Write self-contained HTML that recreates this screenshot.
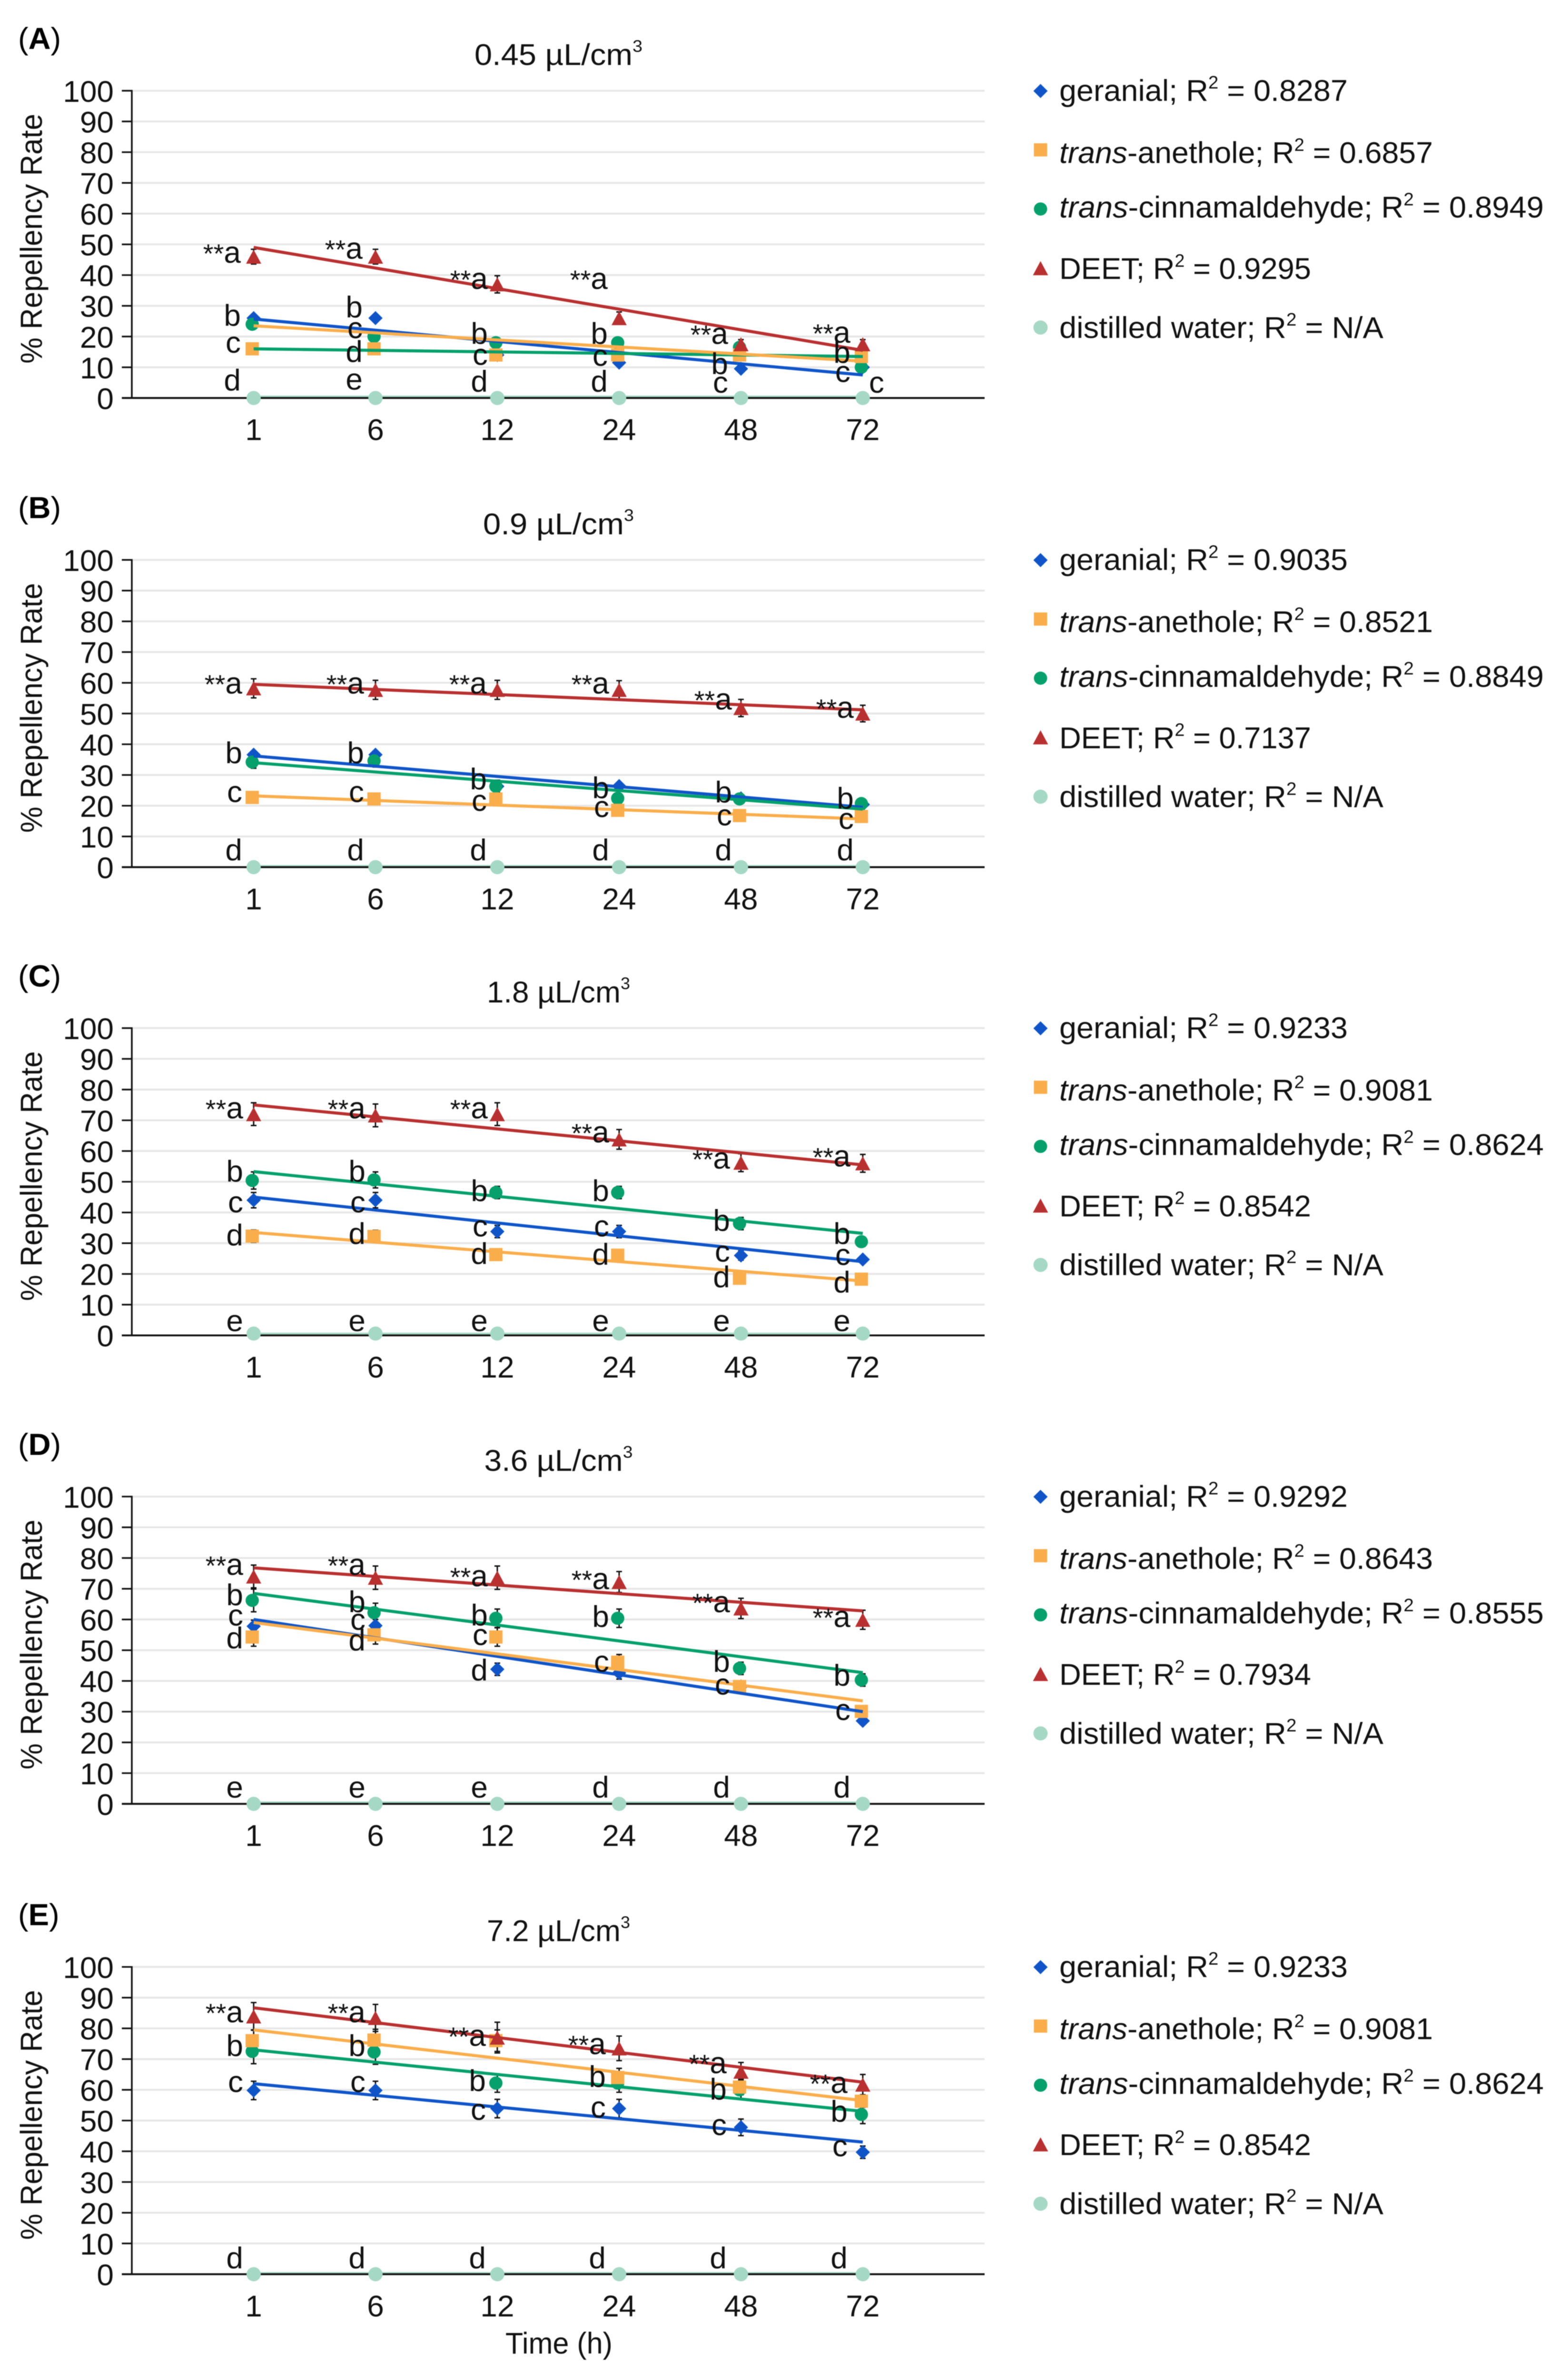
<!DOCTYPE html>
<html lang="en">
<head>
<meta charset="utf-8">
<title>Repellency rate over time</title>
<style>
html,body{margin:0;padding:0;background:#fff;overflow:hidden}
svg{display:block;width:100vw;height:100vh;font-family:"Liberation Sans",Arial,sans-serif;filter:blur(0.7px)}
</style>
</head>
<body>
<svg id="figure" xmlns="http://www.w3.org/2000/svg" viewBox="0 0 3276 5050" preserveAspectRatio="none"></svg>
<script>
const categories = ['1','6','12','24','48','72'];
const yTicks = [0,10,20,30,40,50,60,70,80,90,100];
const yTickLabels = ['0','10','20','30','40','50','60','70','80','90','100'];

// Panel A
const geranialA = [26,26,14,11.5,9.5,10];
const anetholeA = [16,16,14,14,14,13.5];
const cinnamA = [24,20,18,18,16.5,10];
const deetA = [46,46,37,26,17.5,17.5];
const waterA = [0,0,0,0,0,0];
const errGeranialA = [1,1,1,1,1,1];
const errAnetholeA = [1,1,1,1,1,1];
const errCinnamA = [1,1,1,1,1,1];
const errDeetA = [2.4,2.4,2.8,2,1.5,1.5];
const trendGeranialA = [25.7,7.5];
const trendAnetholeA = [23.5,12];
const trendCinnamA = [16,13.5];
const trendDeetA = [49,15.5];
const trendWaterA = [0.3,0.3];
const r2A = ['0.8287','0.6857','0.8949','0.9295','N/A'];
const lettersA = [['**a','b','c','d'],['**a','b','c','d','e'],['**a','b','c','d'],['**a','b','c','d'],['**a','b','c'],['**a','b','c']];
const letterValsA = [[44,23.5,14.7,2.4],[45.3,26.2,19.5,11.7,2.7],[35.5,17.6,10.8,2],[35.5,17.6,10.5,2],[17.6,7.8,1.7],[18,11.4,5.2]];

// Panel B
const geranialB = [36.6,36.6,26.3,26.4,22.4,20.4];
const anetholeB = [22.7,22.2,22.2,18.5,16.8,16.5];
const cinnamB = [34.2,34.6,26.3,22.4,22.2,20.7];
const deetB = [58.2,57.7,57.7,57.7,51.8,50];
const waterB = [0,0,0,0,0,0];
const errGeranialB = [1,1,1,1,1,1];
const errAnetholeB = [1,1,1,1,1,1];
const errCinnamB = [2,2,2,1.5,1,1];
const errDeetB = [3.1,3.1,3.1,3,2.8,2.7];
const trendGeranialB = [36.2,19.5];
const trendAnetholeB = [23.2,15.7];
const trendCinnamB = [34,18.9];
const trendDeetB = [59.5,51.2];
const trendWaterB = [0.2,0.2];
const r2B = ['0.9035','0.8521','0.8849','0.7137','N/A'];
const lettersB = [['**a','b','c','d'],['**a','b','c','d'],['**a','b','c','d'],['**a','b','c','d'],['**a','b','c','d'],['**a','b','c','d']];
const letterValsB = [[56.5,33.8,21.2,2.2],[56.5,33.8,21.2,2.2],[56.5,25.3,18.3,2.2],[56.5,22.4,16.3,2.2],[51.3,21,13.6,2.2],[48.6,19,12.4,2.2]];

// Panel C
const geranialC = [44,44,33.8,33.8,26,24.7];
const anetholeC = [32.3,32.2,26.3,26.1,18.6,18.3];
const cinnamC = [50.4,50.6,46.5,46.5,36.4,30.5];
const deetC = [72,71.6,72,63.8,56.2,56];
const waterC = [0.6,0.6,0.6,0.6,0.6,0.6];
const errGeranialC = [2.5,2.5,2,2,1.5,1];
const errAnetholeC = [2,2,1.5,1.5,1,1];
const errCinnamC = [2.8,2.6,2,2,2,1.5];
const errDeetC = [3.7,3.7,3.7,3.2,2.9,2.9];
const trendGeranialC = [45,24];
const trendAnetholeC = [33.5,17.7];
const trendCinnamC = [53.3,33.2];
const trendDeetC = [75,55.5];
const trendWaterC = [0.4,0.4];
const r2C = ['0.9233','0.9081','0.8624','0.8542','N/A'];
const lettersC = [['**a','b','c','d','e'],['**a','b','c','d','e'],['**a','b','c','d','e'],['**a','b','c','d','e'],['**a','b','c','d','e'],['**a','b','c','d','e']];
const letterValsC = [[70.6,50,40,29.3,1.4],[70.6,50,40,29.7,1.4],[70.6,43.7,32.2,23.2,1.4],[62.8,43.7,32.2,23,1.4],[54.3,34,24,15.6,1.4],[55,29.7,22.9,13.9,1.4]];

// Panel D
const geranialD = [57.8,58,43.8,42.6,38.2,27];
const anetholeD = [54.3,55,54.3,46.1,38.2,30.1];
const cinnamD = [66.2,62.2,60.4,60.4,44.1,40.3];
const deetD = [74,73.6,73.6,72.2,63.6,59.9];
const waterD = [0,0,0,0,0,0];
const errGeranialD = [2,2,2,2,1,1];
const errAnetholeD = [3,3,3,2.5,1,1];
const errCinnamD = [3.7,3.1,3,3,2,2];
const errDeetD = [3.7,3.8,3.8,3.4,3.3,3.1];
const trendGeranialD = [60,30];
const trendAnetholeD = [59,33.5];
const trendCinnamD = [68.5,42.7];
const trendDeetD = [76.8,62.8];
const trendWaterD = [0.3,0.3];
const r2D = ['0.9292','0.8643','0.8555','0.7934','N/A'];
const lettersD = [['**a','b','c','d','e'],['**a','b','c','d','e'],['**a','b','c','d','e'],['**a','b','c','d'],['**a','b','c','d'],['**a','b','c','d']];
const letterValsD = [[74.5,64.6,58,50.6,2],[74.5,62.4,56.6,49.9,2],[70.8,58,51.7,40.1,2],[69.9,57.6,43,2],[62.4,42.9,35.6,2],[57.6,38.4,27.3,2]];

// Panel E
const geranialE = [59.8,59.8,53.9,53.9,47.8,39.7];
const anetholeE = [76,76.2,76,64,60.9,56.3];
const cinnamE = [72.5,72.3,62.2,62.2,60,52];
const deetE = [83.9,83.4,77,73.5,65.9,61.7];
const waterE = [0,0,0,0,0,0];
const errGeranialE = [3,3,3,3,2.7,2];
const errAnetholeE = [3.5,3.5,3.5,3,2.5,2];
const errCinnamE = [4,4,3,3,3,3];
const errDeetE = [4.5,4.4,5,4,3,3.3];
const trendGeranialE = [62,43];
const trendAnetholeE = [79.5,56.5];
const trendCinnamE = [73,53];
const trendDeetE = [86.7,62.5];
const trendWaterE = [0.2,0.2];
const r2E = ['0.9233','0.9081','0.8624','0.8542','N/A'];
const lettersE = [['**a','b','c','d'],['**a','b','c','d'],['**a','b','c','d'],['**a','b','c','d'],['**a','b','c','d'],['**a','b','c','d']];
const letterValsE = [[82,71,59.3,1.9],[82,71,59.3,1.9],[74.3,59.6,50.2,1.9],[71.6,60.9,51,1.9],[65.4,56.8,45.3,1.9],[59,49.6,38.4,1.9]];

const NS = 'http://www.w3.org/2000/svg';
const svg = document.getElementById('figure');
const FONT_SIZE = 64;
const COLORS = {geranial:'#0f55c8',anethole:'#f9ae4b',cinnam:'#05a06c',deet:'#b83030',water:'#a6d8c6'};

const panels = [
 {id:'A',title:'0.45 µL/cm',titleW:353,y0:844.5,nudge:[-27,-27,-20,-24,-27,-26],geranial:geranialA,anethole:anetholeA,cinnam:cinnamA,deet:deetA,water:waterA,errGeranial:errGeranialA,errAnethole:errAnetholeA,errCinnam:errCinnamA,errDeet:errDeetA,trendGeranial:trendGeranialA,trendAnethole:trendAnetholeA,trendCinnam:trendCinnamA,trendDeet:trendDeetA,trendWater:trendWaterA,r2:r2A,letters:lettersA,letterVals:letterValsA,extra:{col:5,text:'c',val:1.7,dx:45}},
 {id:'B',title:'0.9 µL/cm',titleW:317,y0:1840,nudge:[-24,-24,-22,-21,-19,-19],geranial:geranialB,anethole:anetholeB,cinnam:cinnamB,deet:deetB,water:waterB,errGeranial:errGeranialB,errAnethole:errAnetholeB,errCinnam:errCinnamB,errDeet:errDeetB,trendGeranial:trendGeranialB,trendAnethole:trendAnetholeB,trendCinnam:trendCinnamB,trendDeet:trendDeetB,trendWater:trendWaterB,r2:r2B,letters:lettersB,letterVals:letterValsB},
 {id:'C',title:'1.8 µL/cm',titleW:301,y0:2833.5,nudge:[-22,-21,-20,-21,-23,-26],geranial:geranialC,anethole:anetholeC,cinnam:cinnamC,deet:deetC,water:waterC,errGeranial:errGeranialC,errAnethole:errAnetholeC,errCinnam:errCinnamC,errDeet:errDeetC,trendGeranial:trendGeranialC,trendAnethole:trendAnetholeC,trendCinnam:trendCinnamC,trendDeet:trendDeetC,trendWater:trendWaterC,r2:r2C,letters:lettersC,letterVals:letterValsC},
 {id:'D',title:'3.6 µL/cm',titleW:312,y0:3827.5,nudge:[-22,-21,-20,-21,-23,-26],geranial:geranialD,anethole:anetholeD,cinnam:cinnamD,deet:deetD,water:waterD,errGeranial:errGeranialD,errAnethole:errAnetholeD,errCinnam:errCinnamD,errDeet:errDeetD,trendGeranial:trendGeranialD,trendAnethole:trendAnetholeD,trendCinnam:trendCinnamD,trendDeet:trendDeetD,trendWater:trendWaterD,r2:r2D,letters:lettersD,letterVals:letterValsD},
 {id:'E',title:'7.2 µL/cm',titleW:301,y0:4825.5,nudge:[-22,-21,-24,-28,-30,-32],geranial:geranialE,anethole:anetholeE,cinnam:cinnamE,deet:deetE,water:waterE,errGeranial:errGeranialE,errAnethole:errAnetholeE,errCinnam:errCinnamE,errDeet:errDeetE,trendGeranial:trendGeranialE,trendAnethole:trendAnetholeE,trendCinnam:trendCinnamE,trendDeet:trendDeetE,trendWater:trendWaterE,r2:r2E,letters:lettersE,letterVals:letterValsE}
];

function make(tag, parent, props){
  const el = document.createElementNS(NS, tag);
  for (const k in props) el.setAttribute(k, props[k]);
  parent.appendChild(el);
  return el;
}
function xScale(i){ return 533 + 256 * i; }
function yScale(v, y0){ return y0 - v * 6.52; }

function drawMarker(parent, shape, cx, cy, color){
  if (shape === 'diamond') return make('polygon', parent, {points:`${cx},${cy-15} ${cx+15},${cy} ${cx},${cy+15} ${cx-15},${cy}`, fill:color});
  if (shape === 'square') return make('rect', parent, {x:cx-14, y:cy-14, width:28, height:28, fill:color});
  if (shape === 'triangle') return make('polygon', parent, {points:`${cx},${cy-15} ${cx+16},${cy+15} ${cx-16},${cy+15}`, fill:color});
  if (shape === 'water') return make('circle', parent, {cx:cx, cy:cy, r:15, fill:color});
  return make('circle', parent, {cx:cx, cy:cy, r:14, fill:color});
}

function drawErrorBars(group, values, errs, seriesName, dx, y0){
  values.forEach((v, i) => {
    const x = xScale(i) + dx;
    const top = yScale(v + errs[i], y0);
    const bottom = yScale(v - errs[i], y0);
    const bar = make('path', group, {d:`M${x-6} ${top}H${x+6}M${x} ${top}V${bottom}M${x-6} ${bottom}H${x+6}`, stroke:'#111', 'stroke-width':3, fill:'none'});
    
    
  });
}

function drawMarkers(group, values, shape, color, seriesName, dx, y0){
  values.forEach((v, i) => {
    const m = drawMarker(group, shape, xScale(i) + dx, yScale(v, y0), color);
    
    
  });
}

function drawTrend(group, trend, color, seriesName, y0){
  const line = make('line', group, {x1:xScale(0), y1:yScale(trend[0], y0), x2:xScale(categories.length - 1), y2:yScale(trend[1], y0), stroke:color, 'stroke-width':6.5});
  
  
}

panels.forEach(p => {
  const y0 = p.y0;
  const g = make('g', svg, {});
  
  

  // panel letter
  const panelLabel = make('text', g, {x:38, y:y0 - 740.5, 'font-size':65, fill:'#000'});
  
  
  make('tspan', panelLabel, {}).textContent = '(';
  make('tspan', panelLabel, {'font-weight':'bold'}).textContent = p.id;
  make('tspan', panelLabel, {}).textContent = ')';

  // title
  const title = make('text', g, {x:1173.5, y:y0 - 706.5, 'font-size':FONT_SIZE, 'text-anchor':'middle', fill:'#111', textLength:p.titleW, lengthAdjust:'spacingAndGlyphs'});
  
  
  make('tspan', title, {}).textContent = p.title;
  make('tspan', title, {dy:-28, 'font-size':36}).textContent = '3';

  // y axis title
  const yc = y0 - 338;
  const yTitle = make('text', g, {x:88, y:yc, 'font-size':FONT_SIZE, 'text-anchor':'middle', fill:'#111', textLength:530, lengthAdjust:'spacingAndGlyphs', transform:`rotate(-90 88 ${yc})`});
  
  
  yTitle.textContent = '% Repellency Rate';

  // gridlines and y ticks
  yTicks.forEach((t, i) => {
    const y = yScale(t, y0);
    if (t > 0) {
      const grid = make('line', g, {x1:279, y1:y, x2:2069, y2:y, stroke:'#e6e6e6', 'stroke-width':4});
      
      
      const tick = make('line', g, {x1:256, y1:y, x2:277, y2:y, stroke:'#111', 'stroke-width':3.5});
      
      
    }
    const lab = make('text', g, {x:239, y:y + 23.5, 'font-size':FONT_SIZE, 'text-anchor':'end', fill:'#111'});
    
    
    lab.textContent = yTickLabels[i];
  });

  // water trend sits under the axis
  drawTrend(g, p.trendWater, COLORS.water, 'distilled-water', y0);

  // axes
  const yAxis = make('line', g, {x1:277, y1:yScale(100, y0) - 1.75, x2:277, y2:y0, stroke:'#111', 'stroke-width':3.5});
  
  
  const xAxis = make('line', g, {x1:256, y1:y0, x2:2069, y2:y0, stroke:'#111', 'stroke-width':4});
  
  

  // x tick labels
  categories.forEach((c, i) => {
    const lab = make('text', g, {x:xScale(i), y:y0 + 89.5, 'font-size':FONT_SIZE, 'text-anchor':'middle', fill:'#111'});
    
    
    lab.textContent = c;
  });

  // error bars under markers
  drawErrorBars(g, p.geranial, p.errGeranial, 'geranial', 0, y0);
  drawErrorBars(g, p.cinnam, p.errCinnam, 'trans-cinnamaldehyde', 0, y0);
  drawErrorBars(g, p.anethole, p.errAnethole, 'trans-anethole', 0, y0);
  drawErrorBars(g, p.deet, p.errDeet, 'deet', 0, y0);

  // markers
  drawMarkers(g, p.geranial, 'diamond', COLORS.geranial, 'geranial', 0, y0);
  drawMarkers(g, p.cinnam, 'circle', COLORS.cinnam, 'trans-cinnamaldehyde', -3, y0);
  drawMarkers(g, p.anethole, 'square', COLORS.anethole, 'trans-anethole', -3, y0);
  drawMarkers(g, p.deet, 'triangle', COLORS.deet, 'deet', 0, y0);
  drawMarkers(g, p.water, 'water', COLORS.water, 'distilled-water', 0, y0);

  // trendlines
  drawTrend(g, p.trendGeranial, COLORS.geranial, 'geranial', y0);
  drawTrend(g, p.trendCinnam, COLORS.cinnam, 'trans-cinnamaldehyde', y0);
  drawTrend(g, p.trendAnethole, COLORS.anethole, 'trans-anethole', y0);
  drawTrend(g, p.trendDeet, COLORS.deet, 'deet', y0);

  // significance letters
  p.letters.forEach((col, ci) => {
    col.forEach((txt, li) => {
      const t = make('text', g, {x:xScale(ci) + p.nudge[ci], y:yScale(p.letterVals[ci][li], y0), 'font-size':FONT_SIZE, 'text-anchor':'end', fill:'#111'});
      
      
      if (txt.indexOf('**') === 0) {
        make('tspan', t, {'font-size':56}).textContent = '**';
        make('tspan', t, {}).textContent = txt.slice(2);
      } else {
        t.textContent = txt;
      }
    });
  });
  if (p.extra) {
    const t = make('text', g, {x:xScale(p.extra.col) + p.extra.dx, y:yScale(p.extra.val, y0), 'font-size':FONT_SIZE, 'text-anchor':'end', fill:'#111'});
    
    
    t.textContent = p.extra.text;
  }

  // legend
  const legend = make('g', g, {});
  
  
  const legendShapes = ['diamond','square','circle','triangle','water'];
  const legendColors = [COLORS.geranial, COLORS.anethole, COLORS.cinnam, COLORS.deet, COLORS.water];
  const legendItalic = ['', 'trans', 'trans', '', ''];
  const legendNames = ['geranial; R', '-anethole; R', '-cinnamaldehyde; R', 'DEET; R', 'distilled water; R'];
  const legendWidths = [606, 785, 1018, 529, 681];
  const markerOffsets = [-651.5, -526.5, -401, -275.5, -149.5];
  const textOffsets = [-630.5, -498.5, -382.7, -252.5, -127.5];
  legendNames.forEach((name, i) => {
    const mk = drawMarker(legend, legendShapes[i], 2186.5, y0 + markerOffsets[i], legendColors[i]);
    
    
    const t = make('text', legend, {x:2226, y:y0 + textOffsets[i], 'font-size':FONT_SIZE, fill:'#111', textLength:legendWidths[i], lengthAdjust:'spacingAndGlyphs'});
    
    
    if (legendItalic[i]) make('tspan', t, {'font-style':'italic'}).textContent = legendItalic[i];
    make('tspan', t, {}).textContent = name;
    make('tspan', t, {dy:-26, 'font-size':38}).textContent = '2';
    make('tspan', t, {dy:26}).textContent = ' = ' + p.r2[i];
  });
});

// shared x axis title
const xTitle = make('text', svg, {x:1174.5, y:4994, 'font-size':FONT_SIZE, 'text-anchor':'middle', fill:'#111', textLength:225, lengthAdjust:'spacingAndGlyphs'});


xTitle.textContent = 'Time (h)';
</script>
</body>
</html>
